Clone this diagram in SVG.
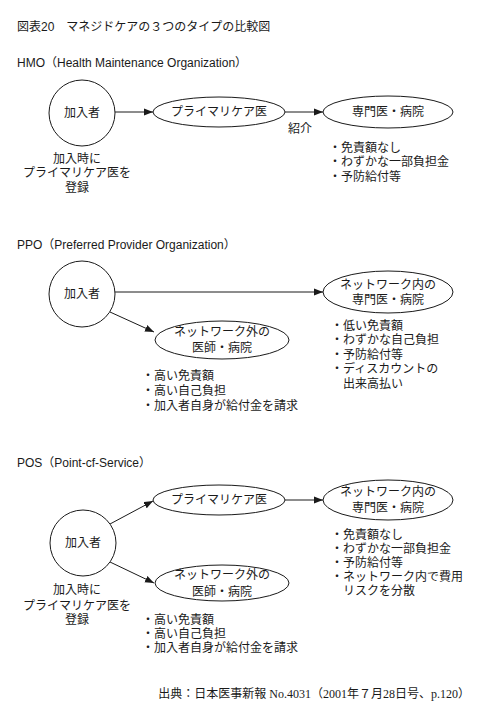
<svg xmlns="http://www.w3.org/2000/svg" width="480" height="717" viewBox="0 0 480 717">
<style>
text{font-family:"Liberation Sans","Noto Sans CJK JP",sans-serif;font-size:12px;fill:#1a1a1a}
.c{text-anchor:middle}
.ft{font-family:"Liberation Serif","Noto Sans CJK JP",serif;font-size:12px}
.n{fill:#fff;stroke:#1a1a1a;stroke-width:1}
.e{stroke:#1a1a1a;stroke-width:1;fill:none}
</style>
<defs>
<marker id="ah" markerUnits="userSpaceOnUse" markerWidth="10" markerHeight="8" refX="9" refY="4" orient="auto">
<path d="M0,0.5 L9,4 L0,7.5 z" fill="#1a1a1a"/>
</marker>
</defs>
<rect width="480" height="717" fill="#fff"/>
<text x="17" y="31">図表20　マネジドケアの３つのタイプの比較図</text>

<!-- HMO -->
<text x="17" y="67">HMO（Health Maintenance Organization）</text>
<g id="connectors-hmo">
<line class="e" x1="115" y1="112" x2="153" y2="112" marker-end="url(#ah)"/>
<line class="e" x1="285" y1="112" x2="323" y2="112" marker-end="url(#ah)"/>
<text class="c" x="300" y="133">紹介</text>
</g>
<g id="hmo-member"><circle class="n" cx="82" cy="113" r="33"/><text class="c" x="82" y="117">加入者</text></g>
<g id="hmo-pcp"><ellipse class="n" cx="219" cy="112" rx="66" ry="15"/><text class="c" x="219" y="116">プライマリケア医</text></g>
<g id="hmo-spec"><ellipse class="n" cx="388" cy="112" rx="65" ry="16"/><text class="c" x="388" y="116">専門医・病院</text></g>
<g id="hmo-note-left">
<text class="c" x="77" y="163">加入時に</text>
<text class="c" x="77" y="177">プライマリケア医を</text>
<text class="c" x="77" y="192">登録</text>
</g>
<g id="hmo-note-right">
<text x="329" y="152">・免責額なし</text>
<text x="329" y="166">・わずかな一部負担金</text>
<text x="329" y="181">・予防給付等</text>
</g>

<!-- PPO -->
<text x="17" y="249">PPO（Preferred Provider Organization）</text>
<g id="connectors-ppo">
<line class="e" x1="115" y1="292" x2="323" y2="292" marker-end="url(#ah)"/>
<line class="e" x1="110" y1="312" x2="154" y2="332" marker-end="url(#ah)"/>
</g>
<g id="ppo-member"><circle class="n" cx="82" cy="294" r="33"/><text class="c" x="82" y="298">加入者</text></g>
<g id="ppo-in"><ellipse class="n" cx="388" cy="292" rx="65" ry="21"/><text class="c" x="388" y="289">ネットワーク内の</text><text class="c" x="388" y="304">専門医・病院</text></g>
<g id="ppo-out"><ellipse class="n" cx="222" cy="340" rx="67" ry="19"/><text class="c" x="222" y="336">ネットワーク外の</text><text class="c" x="222" y="352">医師・病院</text></g>
<g id="ppo-note-in">
<text x="331" y="330">・低い免責額</text>
<text x="331" y="344">・わずかな自己負担</text>
<text x="331" y="359">・予防給付等</text>
<text x="331" y="373">・ディスカウントの</text>
<text x="343" y="388">出来高払い</text>
</g>
<g id="ppo-note-out">
<text x="142" y="380">・高い免責額</text>
<text x="142" y="395">・高い自己負担</text>
<text x="142" y="410">・加入者自身が給付金を請求</text>
</g>

<!-- POS -->
<text x="17" y="467">POS（Point-cf-Service）</text>
<g id="connectors-pos">
<line class="e" x1="110" y1="524" x2="153" y2="501" marker-end="url(#ah)"/>
<line class="e" x1="285" y1="500" x2="323" y2="500" marker-end="url(#ah)"/>
<line class="e" x1="110" y1="562" x2="154" y2="583" marker-end="url(#ah)"/>
</g>
<g id="pos-member"><circle class="n" cx="83" cy="543" r="33"/><text class="c" x="83" y="547">加入者</text></g>
<g id="pos-pcp"><ellipse class="n" cx="219" cy="500" rx="66" ry="15"/><text class="c" x="219" y="504">プライマリケア医</text></g>
<g id="pos-in"><ellipse class="n" cx="388" cy="500" rx="65" ry="20"/><text class="c" x="388" y="496">ネットワーク内の</text><text class="c" x="388" y="512">専門医・病院</text></g>
<g id="pos-out"><ellipse class="n" cx="222" cy="583" rx="67" ry="18"/><text class="c" x="222" y="579">ネットワーク外の</text><text class="c" x="222" y="596">医師・病院</text></g>
<g id="pos-note-left">
<text class="c" x="77" y="594">加入時に</text>
<text class="c" x="77" y="610">プライマリケア医を</text>
<text class="c" x="77" y="624">登録</text>
</g>
<g id="pos-note-in">
<text x="331" y="539">・免責額なし</text>
<text x="331" y="553">・わずかな一部負担金</text>
<text x="331" y="567">・予防給付等</text>
<text x="331" y="581">・ネットワーク内で費用</text>
<text x="343" y="595">リスクを分散</text>
</g>
<g id="pos-note-out">
<text x="142" y="624">・高い免責額</text>
<text x="142" y="638">・高い自己負担</text>
<text x="142" y="652">・加入者自身が給付金を請求</text>
</g>

<text class="ft" x="470" y="698" text-anchor="end">出典：日本医事新報 No.4031（2001年７月28日号、p.120）</text>
</svg>
